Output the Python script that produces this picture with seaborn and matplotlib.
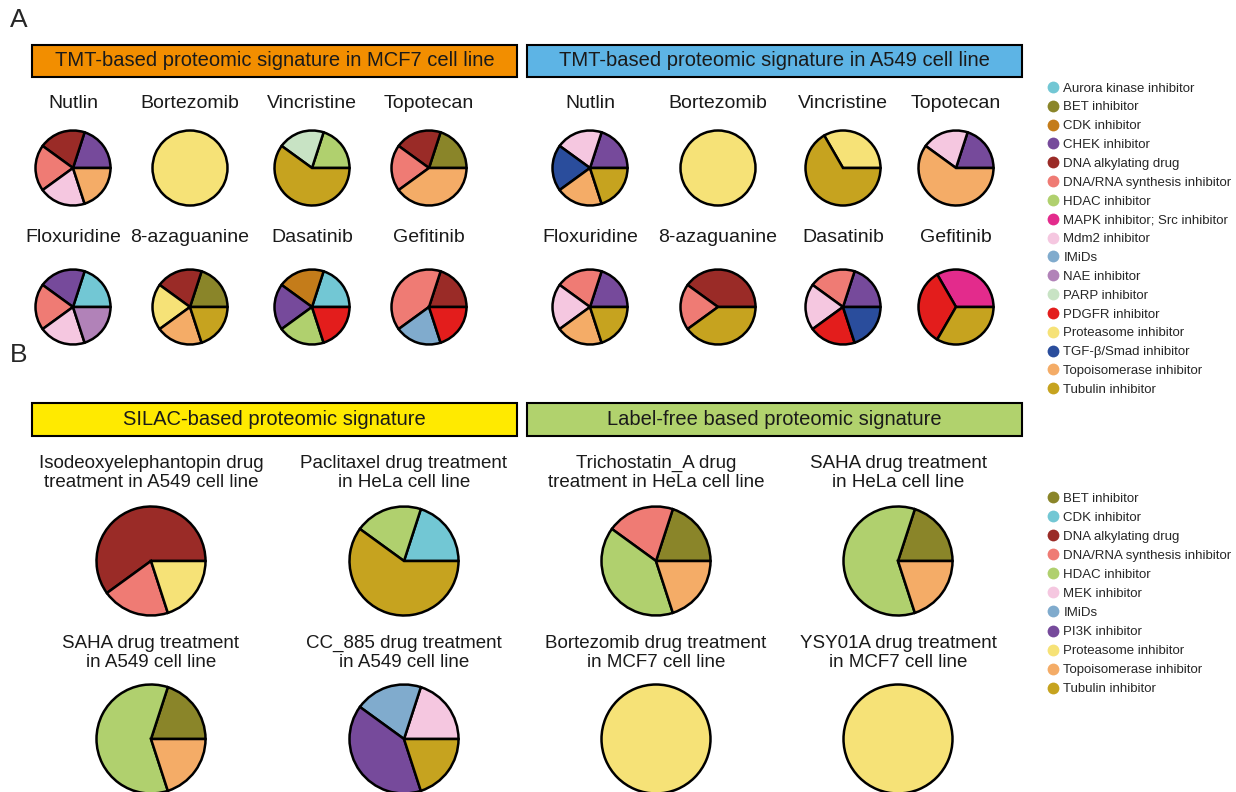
import matplotlib
matplotlib.use("Agg")
import matplotlib.pyplot as plt
from matplotlib.patches import Rectangle
from matplotlib.lines import Line2D
import seaborn as sns

# legend categories and colours (panel A)
classes_a = ["Aurora kinase inhibitor", "BET inhibitor", "CDK inhibitor", "CHEK inhibitor",
             "DNA alkylating drug", "DNA/RNA synthesis inhibitor", "HDAC inhibitor",
             "MAPK inhibitor; Src inhibitor", "Mdm2 inhibitor", "IMiDs", "NAE inhibitor",
             "PARP inhibitor", "PDGFR inhibitor", "Proteasome inhibitor",
             "TGF-\u03b2/Smad inhibitor", "Topoisomerase inhibitor", "Tubulin inhibitor"]
colors_a = ["#72C7D4", "#8A8529", "#C47C1A", "#764A9B", "#9A2B27", "#EF7B74", "#B0D06E",
            "#E32B8C", "#F5C7E0", "#80ABCD", "#B182B8", "#C8E3C4", "#E31D1C", "#F6E277",
            "#2A4D9C", "#F4AC67", "#C6A31F"]

# legend categories and colours (panel B)
classes_b = ["BET inhibitor", "CDK inhibitor", "DNA alkylating drug", "DNA/RNA synthesis inhibitor",
             "HDAC inhibitor", "MEK inhibitor", "IMiDs", "PI3K inhibitor", "Proteasome inhibitor",
             "Topoisomerase inhibitor", "Tubulin inhibitor"]
colors_b = ["#8A8529", "#72C7D4", "#9A2B27", "#EF7B74", "#B0D06E", "#F5C7E0", "#80ABCD",
            "#764A9B", "#F6E277", "#F4AC67", "#C6A31F"]

drugs_a = ["Nutlin", "Bortezomib", "Vincristine", "Topotecan",
           "Floxuridine", "8-azaguanine", "Dasatinib", "Gefitinib"]

mcf7_classes = [
    ["CHEK inhibitor", "DNA alkylating drug", "DNA/RNA synthesis inhibitor", "Mdm2 inhibitor", "Topoisomerase inhibitor"],
    ["Proteasome inhibitor"],
    ["HDAC inhibitor", "PARP inhibitor", "Tubulin inhibitor"],
    ["BET inhibitor", "DNA alkylating drug", "DNA/RNA synthesis inhibitor", "Topoisomerase inhibitor"],
    ["Aurora kinase inhibitor", "CHEK inhibitor", "DNA/RNA synthesis inhibitor", "Mdm2 inhibitor", "NAE inhibitor"],
    ["BET inhibitor", "DNA alkylating drug", "Proteasome inhibitor", "Topoisomerase inhibitor", "Tubulin inhibitor"],
    ["Aurora kinase inhibitor", "CDK inhibitor", "CHEK inhibitor", "HDAC inhibitor", "PDGFR inhibitor"],
    ["DNA alkylating drug", "DNA/RNA synthesis inhibitor", "IMiDs", "PDGFR inhibitor"],
]
mcf7_counts = [[1, 1, 1, 1, 1], [1], [1, 1, 3], [1, 1, 1, 2],
               [1, 1, 1, 1, 1], [1, 1, 1, 1, 1], [1, 1, 1, 1, 1], [1, 2, 1, 1]]

a549_classes = [
    ["CHEK inhibitor", "Mdm2 inhibitor", "TGF-\u03b2/Smad inhibitor", "Topoisomerase inhibitor", "Tubulin inhibitor"],
    ["Proteasome inhibitor"],
    ["Proteasome inhibitor", "Tubulin inhibitor"],
    ["CHEK inhibitor", "Mdm2 inhibitor", "Topoisomerase inhibitor"],
    ["CHEK inhibitor", "DNA/RNA synthesis inhibitor", "Mdm2 inhibitor", "Topoisomerase inhibitor", "Tubulin inhibitor"],
    ["DNA alkylating drug", "DNA/RNA synthesis inhibitor", "Tubulin inhibitor"],
    ["CHEK inhibitor", "DNA/RNA synthesis inhibitor", "Mdm2 inhibitor", "PDGFR inhibitor", "TGF-\u03b2/Smad inhibitor"],
    ["MAPK inhibitor; Src inhibitor", "PDGFR inhibitor", "Tubulin inhibitor"],
]
a549_counts = [[1, 1, 1, 1, 1], [1], [1, 2], [1, 1, 3],
               [1, 1, 1, 1, 1], [2, 1, 2], [1, 1, 1, 1, 1], [1, 1, 1]]

silac_titles = ["Isodeoxyelephantopin drug\ntreatment in A549 cell line",
                "Paclitaxel drug treatment\nin HeLa cell line",
                "SAHA drug treatment\nin A549 cell line",
                "CC_885 drug treatment\nin A549 cell line"]
silac_classes = [
    ["DNA alkylating drug", "DNA/RNA synthesis inhibitor", "Proteasome inhibitor"],
    ["CDK inhibitor", "HDAC inhibitor", "Tubulin inhibitor"],
    ["BET inhibitor", "HDAC inhibitor", "Topoisomerase inhibitor"],
    ["MEK inhibitor", "IMiDs", "PI3K inhibitor", "Tubulin inhibitor"],
]
silac_counts = [[3, 1, 1], [1, 1, 3], [1, 3, 1], [1, 1, 2, 1]]

lf_titles = ["Trichostatin_A drug\ntreatment in HeLa cell line",
             "SAHA drug treatment\nin HeLa cell line",
             "Bortezomib drug treatment\nin MCF7 cell line",
             "YSY01A drug treatment\nin MCF7 cell line"]
lf_classes = [
    ["BET inhibitor", "DNA/RNA synthesis inhibitor", "HDAC inhibitor", "Topoisomerase inhibitor"],
    ["BET inhibitor", "HDAC inhibitor", "Topoisomerase inhibitor"],
    ["Proteasome inhibitor"],
    ["Proteasome inhibitor"],
]
lf_counts = [[1, 1, 2, 1], [1, 3, 1], [1], [1]]

sns.set_theme(style="white")
plt.rcParams['font.family'] = ['Liberation Sans', 'DejaVu Sans']

W, H = 1236, 792
fig = plt.figure(figsize=(W / 100, H / 100), dpi=100)
fig.patch.set_facecolor("white")

pal_a = dict(zip(classes_a, sns.color_palette(colors_a)))
pal_b = dict(zip(classes_b, sns.color_palette(colors_b)))
txt = "#1a1a1a"


def fx(x):
    return x / W


def fy(y):
    return 1 - y / H


def pie(cx, cy, r, labels, counts, pal):
    pad = 1.04
    s = r * pad
    ax = fig.add_axes([fx(cx - s), fy(cy + s), 2 * s / W, 2 * s / H])
    ax.pie(counts, colors=[pal[c] for c in labels], startangle=0, counterclock=True,
           wedgeprops=dict(edgecolor="black", linewidth=1.8))
    ax.set_xlim(-pad, pad)
    ax.set_ylim(-pad, pad)
    ax.axis("off")


def header(x0, x1, y0, y1, color, text):
    fig.add_artist(Rectangle((fx(x0), fy(y1)), (x1 - x0) / W, (y1 - y0) / H,
                             transform=fig.transFigure, facecolor=color,
                             edgecolor="black", linewidth=1.5))
    fig.text(fx((x0 + x1) / 2), fy((y0 + y1) / 2), text, ha="center", va="center",
             fontsize=14.5, color=txt)


# panel labels
fig.text(fx(10), fy(8), "A", fontsize=19, va="top", ha="left")
fig.text(fx(10), fy(343), "B", fontsize=19, va="top", ha="left")

# panel A
header(32, 517, 45, 77, "#F28E00", "TMT-based proteomic signature in MCF7 cell line")
header(527, 1022, 45, 77, "#5DB4E5", "TMT-based proteomic signature in A549 cell line")

mcf7_x = [73, 190, 312, 429]
a549_x = [590, 718, 843, 956]
row_y = [168, 307]
title_y = [103, 237]
for i, drug in enumerate(drugs_a):
    row, col = divmod(i, 4)
    for xs, cls, cnt in [(mcf7_x, mcf7_classes, mcf7_counts), (a549_x, a549_classes, a549_counts)]:
        fig.text(fx(xs[col]), fy(title_y[row]), drug, ha="center", va="center",
                 fontsize=14, color=txt)
        pie(xs[col], row_y[row], 37.5, cls[i], cnt[i], pal_a)

handles_a = [Line2D([], [], marker="o", linestyle="", markersize=8.5, markerfacecolor=pal_a[c],
                    markeredgewidth=0, label=c) for c in classes_a]
fig.legend(handles=handles_a, loc="upper left", bbox_to_anchor=(fx(1041), fy(77)),
           frameon=False, fontsize=9.5, handletextpad=0.3, labelspacing=0.5,
           handlelength=1.0, borderaxespad=0)

# panel B
header(32, 517, 403, 436, "#FFEA00", "SILAC-based proteomic signature")
header(527, 1022, 403, 436, "#B1D26D", "Label-free based proteomic signature")

silac_x = [151, 404]
lf_x = [656, 898]
rowb_y = [561, 739]
titleb_y = [473, 653]
for i in range(4):
    row, col = divmod(i, 2)
    fig.text(fx(silac_x[col]), fy(titleb_y[row]), silac_titles[i], ha="center", va="center",
             fontsize=13.5, linespacing=1.15, color=txt)
    pie(silac_x[col], rowb_y[row], 54.5, silac_classes[i], silac_counts[i], pal_b)
    fig.text(fx(lf_x[col]), fy(titleb_y[row]), lf_titles[i], ha="center", va="center",
             fontsize=13.5, linespacing=1.15, color=txt)
    pie(lf_x[col], rowb_y[row], 54.5, lf_classes[i], lf_counts[i], pal_b)

handles_b = [Line2D([], [], marker="o", linestyle="", markersize=8.5, markerfacecolor=pal_b[c],
                    markeredgewidth=0, label=c) for c in classes_b]
fig.legend(handles=handles_b, loc="upper left", bbox_to_anchor=(fx(1041), fy(487)),
           frameon=False, fontsize=9.5, handletextpad=0.3, labelspacing=0.52,
           handlelength=1.0, borderaxespad=0)

fig.savefig("out.png", dpi=100)
